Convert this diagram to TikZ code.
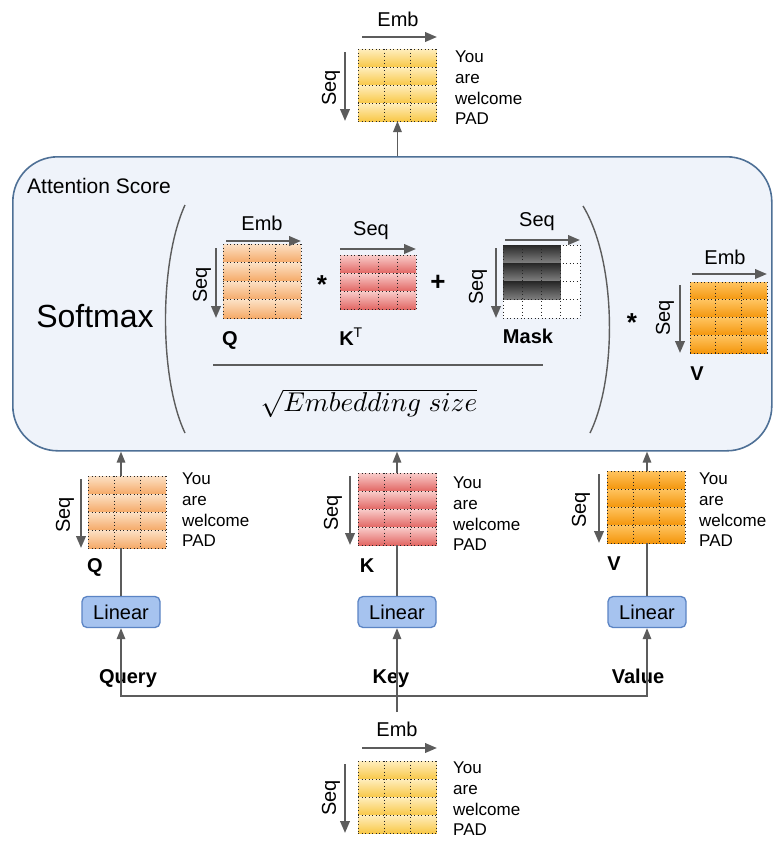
\documentclass[tikz,border=0pt]{standalone}
\usepackage{fontspec}
\setmainfont{Liberation Sans}
\usetikzlibrary{arrows.meta,calc}
\definecolor{boxfill}{HTML}{EFF3FA}
\definecolor{boxdraw}{HTML}{4E7096}
\definecolor{linfill}{HTML}{A6C3EF}
\definecolor{lindraw}{HTML}{5B84C4}
\definecolor{arr}{HTML}{5C5C5C}
\tikzset{
 conn/.style={draw=arr, line width=1.5pt, -{Triangle[length=11pt,width=8.5pt]}},
 plainline/.style={draw=arr, line width=1.5pt},
 axis/.style={draw=arr, line width=2.2pt, -{Triangle[length=12pt,width=9.5pt]}},
 gridl/.style={draw=black!85, line width=1pt, dash pattern=on 1.3pt off 2.2pt},
 lbl/.style={font=\fontsize{20}{24}\selectfont, inner sep=0},
 words/.style={font=\fontsize{17}{20.7}\selectfont, align=left, anchor=west, inner sep=0},
 bl/.style={font=\bfseries\fontsize{20}{24}\selectfont, inner sep=0},
 op/.style={font=\bfseries\fontsize{26}{30}\selectfont, inner sep=0},
 linear/.style={draw=lindraw, fill=linfill, rounded corners=5pt, line width=1.3pt, minimum width=78pt, minimum height=31pt, font=\fontsize{20}{24}\selectfont, inner sep=0},
 paren/.style={draw=arr, line width=1.4pt},
 yel/.style={top color={rgb,255:red,255;green,238;blue,190}, bottom color={rgb,255:red,248;green,200;blue,72}},
 peach/.style={top color={rgb,255:red,252;green,225;blue,198}, bottom color={rgb,255:red,245;green,170;blue,104}},
 redc/.style={top color={rgb,255:red,249;green,205;blue,203}, bottom color={rgb,255:red,226;green,103;blue,100}},
 orng/.style={top color={rgb,255:red,255;green,196;blue,96}, bottom color={rgb,255:red,244;green,150;blue,12}},
 dark/.style={top color={rgb,255:red,40;green,40;blue,40}, bottom color={rgb,255:red,130;green,130;blue,130}},
}
% #1 name #2 x0 #3 y0 #4 cols #5 rows #6 cw #7 ch #8 shade style
\newcommand\mtx[8]{%
 \node[inner sep=0, outer sep=0, minimum width={#4*#6}, minimum height={#5*#7}, anchor=north west] (#1) at (#2,#3) {};
 \foreach \ii in {1,...,#5}{\path[#8] (#2,{#3+(\ii-1)*#7}) rectangle ({#2+#4*#6},{#3+\ii*#7});}
 \foreach \ii in {0,...,#5}{\draw[gridl] (#2,{#3+\ii*#7}) -- ({#2+#4*#6},{#3+\ii*#7});}
 \foreach \ii in {0,...,#4}{\draw[gridl] ({#2+\ii*#6},#3) -- ({#2+\ii*#6},{#3+#5*#7});}
}
\begin{document}
\begin{tikzpicture}[x=1pt,y=-1pt]
\useasboundingbox (0,0) rectangle (773,841);
\fill[white] (0,0) rectangle (773,841);

% attention box
\node[draw=boxdraw, fill=boxfill, rounded corners=45pt, line width=1.6pt, minimum width=759pt, minimum height=294pt, anchor=north west, inner sep=0] (att) at (12,156) {};
\node[font=\fontsize{21}{25}\selectfont, anchor=west, inner sep=0] (attl) at (27,186) {Attention Score};
\node[font=\fontsize{32}{38}\selectfont, inner sep=0] (smax) at (95,316) {Softmax};
\draw[paren] (185,205) .. controls (159,262) and (159,378) .. (185,433);
\draw[paren] (583,206) .. controls (617,262) and (617,378) .. (590,433);
\draw[draw=arr, line width=1.4pt] (213,365) -- (543,365);
\node[scale=2.72, inner sep=0] (den) at (369,403) {$\sqrt{Embedding\ size}$};

% Q in attention
\mtx{qa}{223}{244}{3}{4}{26}{18.5}{peach}
\draw[axis] (226,241) -- (301,241);
\node[lbl] (qaemb) at (262,223) {Emb};
\draw[axis] (216,248) -- (216,318);
\node[lbl, rotate=90] (qaseq) at (202,285) {Seq};
\node[bl, anchor=base] (qal) at (230,345) {Q};
\node[op] (op1) at (322,285) {*};

% K^T
\mtx{ka}{340}{255}{4}{3}{19}{18}{redc}
\draw[axis] (340,249) -- (416,249);
\node[lbl] (kaseq) at (371,231) {Seq};
\node[bl, anchor=base] (kal) at (351,345) {K\textsuperscript{\mdseries T}};
\node[op] (op2) at (438,283) {+};

% Mask
\fill[white] (503,245) rectangle (580,318);
\foreach \ii in {1,2,3}{\path[dark] (503,{245+(\ii-1)*18.25}) rectangle ({503+3*19.25},{245+\ii*18.25});}
\foreach \ii in {0,...,4}{\draw[gridl] (503,{245+\ii*18.25}) -- (580,{245+\ii*18.25});}
\foreach \ii in {0,...,4}{\draw[gridl] ({503+\ii*19.25},245) -- ({503+\ii*19.25},318);}
\node[inner sep=0, minimum width=77pt, minimum height=73pt, anchor=north west] (ma) at (503,245) {};
\draw[axis] (505,240) -- (580,240);
\node[lbl] (maseq) at (537,222) {Seq};
\draw[axis] (496,248) -- (496,318);
\node[lbl, rotate=90] (maseqv) at (478,287) {Seq};
\node[bl, anchor=base] (mal) at (528,343) {Mask};
\node[op] (op3) at (632,323) {*};

% V in attention
\mtx{va}{690}{282}{3}{4}{25.7}{17.75}{orng}
\draw[axis] (692,274) -- (767,274);
\node[lbl] (vaemb) at (725,257) {Emb};
\draw[axis] (680,285) -- (680,353);
\node[lbl, rotate=90] (vaseq) at (665,318) {Seq};
\node[bl, anchor=base] (val) at (697,380) {V};

% top output
\mtx{topm}{358}{49}{3}{4}{26.3}{18}{yel}
\draw[axis] (362,37) -- (437,37);
\node[lbl] (topemb) at (398,19) {Emb};
\draw[axis] (345,52) -- (345,121);
\node[lbl, rotate=90] (topseq) at (331,88) {Seq};
\node[words] (topw) at (455,88) {You\\are\\welcome\\PAD};
\draw[conn] (topm.south |- att.north) -- (topm.south);

% Linear boxes
\node[linear] (linq) at (121,612) {Linear};
\node[linear] (link) at (397,612) {Linear};
\node[linear] (linv) at (647,612) {Linear};

% Q lower
\mtx{qm}{88}{476}{3}{4}{26}{18}{peach}
\draw[axis] (81,479) -- (81,548);
\node[lbl, rotate=90] (qmseq) at (65,515) {Seq};
\node[bl, anchor=base] (qml) at (95,572) {Q};
\node[words] (qmw) at (182,510) {You\\are\\welcome\\PAD};
\draw[plainline] (linq.north) -- (linq.north |- qm.south);
\draw[conn] (linq.north |- qm.north) -- (linq.north |- att.south);

% K lower
\mtx{km}{358}{473}{3}{4}{26.3}{18}{redc}
\draw[axis] (350,476) -- (350,545);
\node[lbl, rotate=90] (kmseq) at (333,513) {Seq};
\node[bl, anchor=base] (kml) at (367,572) {K};
\node[words] (kmw) at (453,514) {You\\are\\welcome\\PAD};
\draw[plainline] (link.north) -- (link.north |- km.south);
\draw[conn] (link.north |- km.north) -- (link.north |- att.south);

% V lower
\mtx{vm}{607}{471}{3}{4}{26}{18}{orng}
\draw[axis] (599,474) -- (599,543);
\node[lbl, rotate=90] (vmseq) at (581,510) {Seq};
\node[bl, anchor=base] (vml) at (614,570) {V};
\node[words] (vmw) at (699,510) {You\\are\\welcome\\PAD};
\draw[plainline] (linv.north) -- (linv.north |- vm.south);
\draw[conn] (linv.north |- vm.north) -- (linv.north |- att.south);

% inputs
\node[bl, anchor=base] (query) at (128,683) {Query};
\node[bl, anchor=base] (key) at (391,683) {Key};
\node[bl, anchor=base] (value) at (638,683) {Value};
\coordinate (src) at (397,712);
\coordinate (split) at (397,696);
\draw[conn] (src) -- (link.south);
\draw[conn] (split) -| (linq.south);
\draw[conn] (split) -| (linv.south);

% bottom input
\mtx{botm}{358}{761}{3}{4}{26.3}{18}{yel}
\draw[axis] (362,748) -- (437,748);
\node[lbl] (botemb) at (397,729) {Emb};
\draw[axis] (345,764) -- (345,833);
\node[lbl, rotate=90] (botseq) at (331,798) {Seq};
\node[words] (botw) at (453,799) {You\\are\\welcome\\PAD};
\end{tikzpicture}
\end{document}
